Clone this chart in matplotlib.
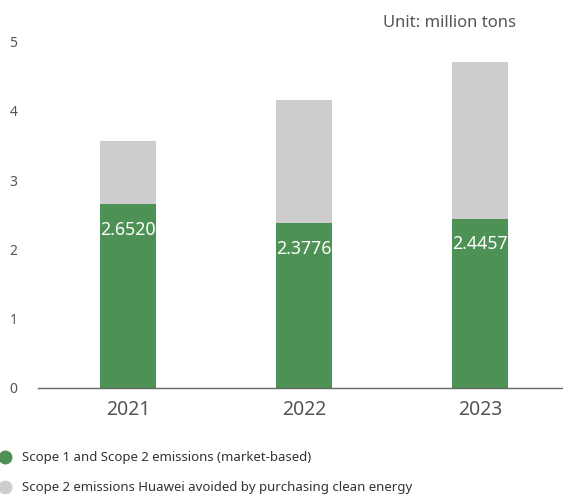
import matplotlib
matplotlib.use("Agg")
import matplotlib.pyplot as plt
from matplotlib.lines import Line2D

plt.rcParams['font.family'] = ['Noto Sans', 'DejaVu Sans']

years = ['2021', '2022', '2023']
market_based = [2.6520, 2.3776, 2.4457]
avoided = [0.92, 1.78, 2.26]
value_labels = ['2.6520', '2.3776', '2.4457']

green = '#4e9155'
grey = '#cecdce'
text_col = '#555555'

fig = plt.figure(figsize=(5.63, 4.94), dpi=100)
ax = fig.add_axes([0.0675, 0.2146, 0.9325, 0.743])

x = range(len(years))
ax.bar(x, market_based, width=0.32, color=green)
ax.bar(x, avoided, width=0.32, bottom=market_based, color=grey)

# value labels sit just under the top of the green segment
for i, v in enumerate(market_based):
    ax.annotate(value_labels[i], (i, v), xytext=(0, -18.5), textcoords='offset points',
                ha='center', va='center', color='white', fontsize=12.8)

ax.set_xlim(-0.51, 2.47)
ax.set_ylim(0, 5.3)
ax.set_yticks([0, 1, 2, 3, 4, 5])
ax.set_xticks(list(x))
ax.set_xticklabels(years)
ax.tick_params(axis='y', length=0, pad=15, labelsize=10, labelcolor=text_col)
ax.tick_params(axis='x', length=0, pad=9, labelsize=14, labelcolor=text_col)
for s in ['top', 'right', 'left']:
    ax.spines[s].set_visible(False)
ax.spines['bottom'].set_color('#666666')
ax.spines['bottom'].set_linewidth(1)

fig.text(0.917, 0.953, 'Unit: million tons', ha='right', va='center', fontsize=12, color=text_col)

handles = [Line2D([], [], marker='o', linestyle='', markersize=9, color=green),
           Line2D([], [], marker='o', linestyle='', markersize=9, color=grey)]
labels = ['Scope 1 and Scope 2 emissions (market-based)',
          'Scope 2 emissions Huawei avoided by purchasing clean energy']
fig.legend(handles, labels, loc='lower left', bbox_to_anchor=(-0.027, -0.025), frameon=False,
           fontsize=9.5, handletextpad=0.75, labelspacing=1.3, handlelength=1.2,
           labelcolor='#333333')

fig.savefig('out.png', dpi=100)
